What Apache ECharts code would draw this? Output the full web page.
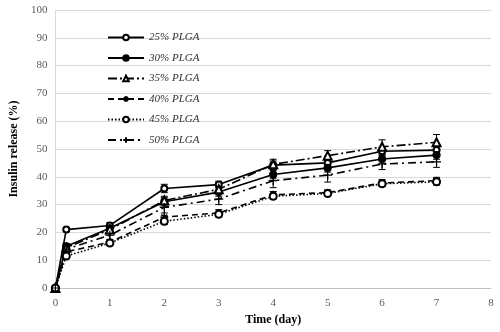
<!DOCTYPE html>
<html>
<head>
<meta charset="utf-8">
<script src="https://cdn.jsdelivr.net/npm/echarts@6/dist/echarts.min.js"></script>
<style>
  html, body { margin: 0; padding: 0; background: #fff; }
  #chart { width: 500px; height: 332px; }
</style>
</head>
<body>
<div id="chart"></div>
<script>
var days = [0, 0.2, 1, 2, 3, 4, 5, 6, 7];
var names = ['25% PLGA', '30% PLGA', '35% PLGA', '40% PLGA', '45% PLGA', '50% PLGA'];

var plga25 = [0, 21, 22.5, 35.8, 37.2, 44.2, 45, 49.2, 49.6];
var plga30 = [0, 15, 21.5, 31, 34.5, 40.8, 43.2, 46.4, 47.8];
var plga35 = [0, 14.5, 21, 31.5, 35.5, 44.5, 47.6, 50.8, 52.4];
var plga40 = [0, 13, 16.5, 25.5, 27, 33.5, 34.3, 37.8, 38.6];
var plga45 = [0, 11.5, 16.2, 24, 26.5, 33, 34, 37.5, 38.2];
var plga50 = [0, 14, 19, 29, 32, 38.6, 40.6, 44.6, 45.4];

var err25 = [0.5, 0.8, 1, 1.5, 1.2, 1.5, 1.2, 1.5, 1.5];
var err30 = [0.5, 1, 1, 1.5, 1.5, 1.5, 1.5, 1.5, 1.5];
var err35 = [0.5, 1, 1, 1.5, 1.2, 1.8, 1.8, 2.5, 2.8];
var err40 = [0.5, 1, 1, 1.5, 1.2, 1.2, 1, 1.2, 1.2];
var err45 = [0.5, 1, 1, 1.2, 1, 1, 1, 1, 1.2];
var err50 = [0.5, 1, 2.5, 3, 2, 2.5, 2.5, 2, 2];

var values = [plga25, plga30, plga35, plga40, plga45, plga50];
var errors = [err25, err30, err35, err40, err45, err50];

var symbols = [
  'emptyCircle',
  'circle',
  'emptyTriangle',
  'path://M0,5L10,5M5,0L5,10M1.5,1.5L8.5,8.5M8.5,1.5L1.5,8.5',
  'emptyCircle',
  'path://M0,5L10,5M5,0L5,10'
];
var symbolSizes = [6, 7, 8, 8, 7, 9];
var lineTypes = ['solid', 'solid', [9, 3, 2, 3], [6, 4], [1.5, 2], [8, 4, 2, 4]];

var font = 'Liberation Serif';
var series = [];

names.forEach(function (n, i) {
  series.push({
    name: n,
    type: 'line',
    data: days.map(function (d, j) { return [d, values[i][j]]; }),
    symbol: symbols[i],
    symbolSize: symbolSizes[i],
    showAllSymbol: true,
    lineStyle: { color: '#000', width: 1.6, type: lineTypes[i] },
    itemStyle: { color: '#000', borderColor: '#000', borderWidth: 1.2 },
    z: 3
  });
});

// error bars
names.forEach(function (n, i) {
  series.push({
    type: 'custom',
    silent: true,
    z: 2,
    data: days.map(function (d, j) {
      return [d, values[i][j] - errors[i][j], values[i][j] + errors[i][j]];
    }),
    renderItem: function (params, api) {
      var lo = api.coord([api.value(0), api.value(1)]);
      var hi = api.coord([api.value(0), api.value(2)]);
      var w = 3.5;
      var st = { stroke: '#000', lineWidth: 1 };
      return {
        type: 'group',
        children: [
          { type: 'line', shape: { x1: lo[0], y1: lo[1], x2: hi[0], y2: hi[1] }, style: st },
          { type: 'line', shape: { x1: lo[0] - w, y1: lo[1], x2: lo[0] + w, y2: lo[1] }, style: st },
          { type: 'line', shape: { x1: hi[0] - w, y1: hi[1], x2: hi[0] + w, y2: hi[1] }, style: st }
        ]
      };
    }
  });
});

var chart = echarts.init(document.getElementById('chart'));
chart.setOption({
  animation: false,
  backgroundColor: '#fff',
  textStyle: { fontFamily: font },
  grid: { left: 41, right: 9, top: 10, bottom: 44 },
  legend: {
    data: names,
    orient: 'vertical',
    left: 102,
    top: 27,
    itemWidth: 36,
    itemHeight: 7,
    itemGap: 9.5,
    textStyle: { fontFamily: font, fontStyle: 'italic', fontSize: 11, color: '#333' }
  },
  xAxis: {
    type: 'value',
    min: 0,
    max: 8,
    interval: 1,
    name: 'Time (day)',
    nameLocation: 'middle',
    nameGap: 25,
    nameTextStyle: { fontFamily: font, fontWeight: 'bold', fontSize: 12, color: '#000' },
    axisLine: { lineStyle: { color: '#bfbfbf', width: 1 } },
    axisTick: { show: false },
    splitLine: { show: false },
    axisLabel: { color: '#595959', fontSize: 11, fontFamily: font, margin: 10 }
  },
  yAxis: {
    type: 'value',
    min: 0,
    max: 100,
    interval: 10,
    name: 'Insulin release (%)',
    nameLocation: 'middle',
    nameGap: 22,
    nameTextStyle: { fontFamily: font, fontWeight: 'bold', fontSize: 12, color: '#000' },
    axisLine: { show: true, lineStyle: { color: '#d9d9d9', width: 1 } },
    axisTick: { show: false },
    splitLine: { lineStyle: { color: '#d9d9d9', width: 1 } },
    axisLabel: { color: '#595959', fontSize: 11, fontFamily: font, margin: 8 }
  },
  series: series
});
</script>
</body>
</html>
